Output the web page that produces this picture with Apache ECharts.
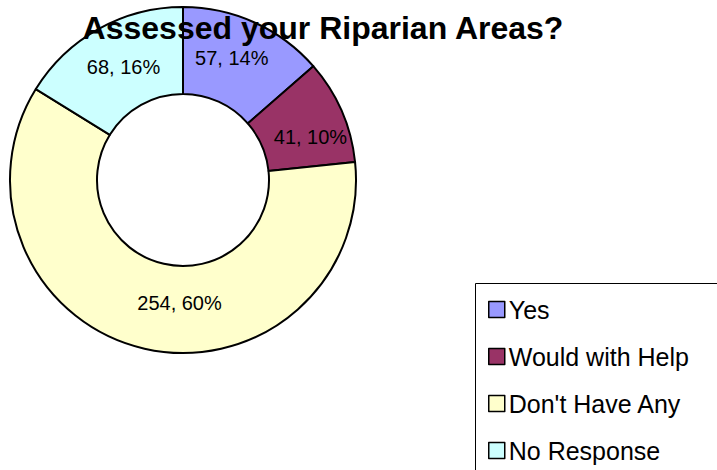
<!DOCTYPE html>
<html>
<head>
<meta charset="utf-8">
<script src="https://cdn.jsdelivr.net/npm/echarts@6/dist/echarts.min.js"></script>
<style>
  html, body { margin: 0; padding: 0; background: #fff; }
  #chart { width: 717px; height: 470px; }
</style>
</head>
<body>
<div id="chart"></div>
<script>
// Assessed your Riparian Areas? - donut chart
var categories = ['Yes', 'Would with Help', "Don't Have Any", 'No Response'];
var counts = [57, 41, 254, 68];
var colors = ['#9999FF', '#993366', '#FFFFCC', '#CCFFFF'];
// small nudges so the slice labels sit where the original put them
var labelNudges = [[-6, -1], [6, 10], [26, -6], [5, 3]];

var font = '"Liberation Sans", Arial, sans-serif';

var chart = echarts.init(document.getElementById('chart'), null, { renderer: 'svg' });
chart.setOption({
  animation: false,
  title: {
    text: 'Assessed your Riparian Areas?',
    left: 318,
    top: 7,
    textAlign: 'center',
    textStyle: { fontFamily: font, fontSize: 32, fontWeight: 'bold', color: '#000' }
  },
  // legend frame runs off the right and bottom edges like the original
  graphic: [{
    type: 'rect',
    shape: { x: 475.5, y: 283.5, width: 300, height: 250 },
    style: { fill: 'none', stroke: '#000', lineWidth: 1 },
    silent: true
  }],
  legend: {
    orient: 'vertical',
    left: 488,
    top: 297,
    data: categories,
    icon: 'rect',
    itemWidth: 16,
    itemHeight: 16,
    itemGap: 22,
    padding: 0,
    textStyle: { fontFamily: font, fontSize: 25, color: '#000', padding: [0, 0, 0, -1] },
    itemStyle: { borderColor: '#000', borderWidth: 1.5 }
  },
  series: [{
    type: 'pie',
    center: [183, 180],
    radius: [86, 173],
    startAngle: 90,
    clockwise: true,
    z: 1,
    data: categories.map(function(name, i) {
      return {
        name: name,
        value: counts[i],
        itemStyle: { color: colors[i] },
        label: { offset: labelNudges[i] }
      };
    }),
    itemStyle: { borderColor: '#000', borderWidth: 2 },
    label: {
      show: true,
      position: 'inside',
      fontFamily: font,
      fontSize: 20,
      color: '#000',
      formatter: function(p) { return p.value + ', ' + Math.round(p.percent) + '%'; }
    },
    labelLine: { show: false },
    emphasis: { disabled: true }
  }]
});
</script>
</body>
</html>
